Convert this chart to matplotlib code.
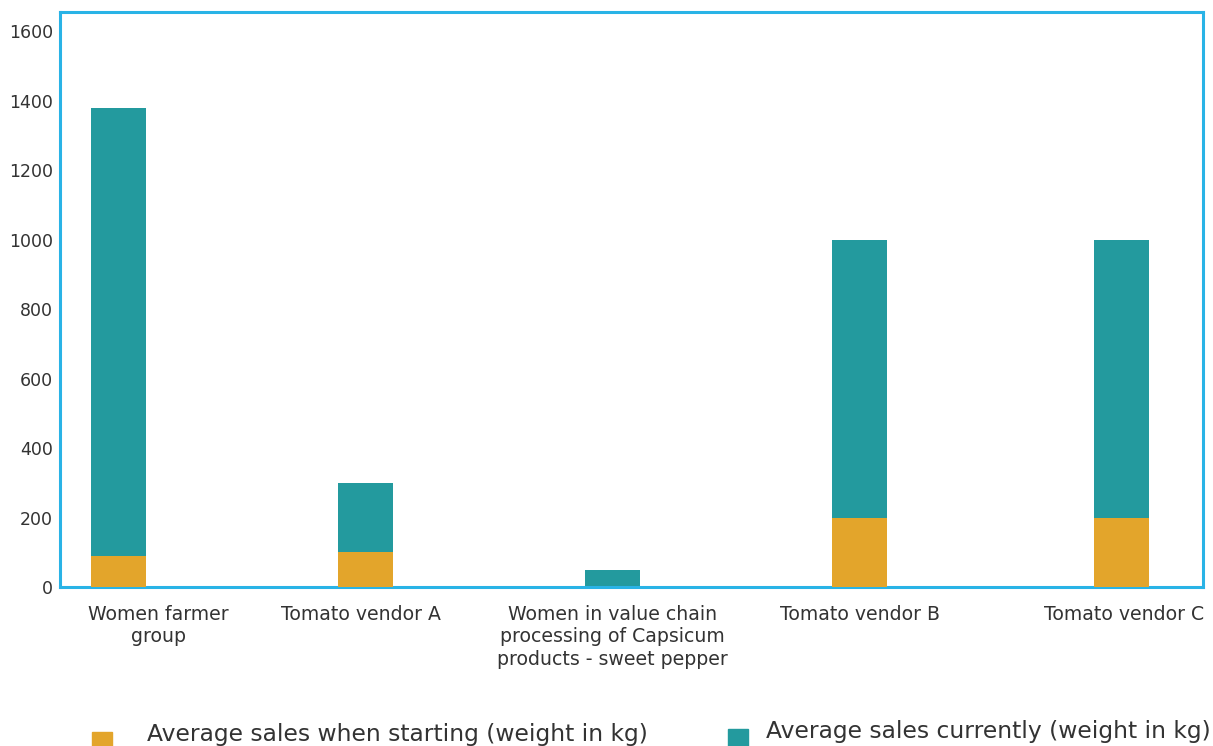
import matplotlib
matplotlib.use("Agg")
import matplotlib.pyplot as plt
from matplotlib.patches import Rectangle

categories = ["Women farmer\ngroup", "Tomato vendor A",
              "Women in value chain\nprocessing of Capsicum\nproducts - sweet pepper",
              "Tomato vendor B", "Tomato vendor C"]
starting = [90, 100, 0, 200, 200]
currently = [1380, 300, 50, 1000, 1000]
yticks = [0, 200, 400, 600, 800, 1000, 1200, 1400, 1600]
legend_labels = ["Average sales when starting (weight in kg)",
                 "Average sales currently (weight in kg)"]

bar_x = [0, 1, 2, 3, 4.06]
label_x = [0.16, 0.98, 2.0, 3.0, 4.07]

orange = "#E3A52B"
teal = "#239A9E"
frame = "#29B3E6"
txt = "#333333"

plt.rcParams['font.family'] = ['DejaVu Sans']
fig = plt.figure(figsize=(12.13, 7.46), dpi=100)
ax = fig.add_axes([60/1213, 1-587/746, (1203-60)/1213, (587-12)/746])

w = 0.223
ax.bar(bar_x, currently, width=w, color=teal, zorder=2)
ax.bar(bar_x, starting, width=w, color=orange, zorder=3)

ax.set_xlim(-0.237, 4.39)
ax.set_ylim(0, 1655)
ax.set_yticks(yticks)
ax.set_yticklabels([str(v) for v in yticks], fontsize=12.5, color=txt)
ax.set_xticks(label_x)
ax.set_xticklabels(categories, fontsize=13.6, color=txt, linespacing=1.22)
ax.tick_params(axis='both', length=0)
ax.tick_params(axis='y', pad=5)
ax.tick_params(axis='x', pad=13)
for s in ax.spines.values():
    s.set_color(frame)
    s.set_linewidth(2.2)

# legend (manual, bottom, partially cut off as in reference)
W, H = 1213, 746
fig.add_artist(Rectangle((92/W, 1-752/H), 20/W, 20/H, transform=fig.transFigure,
                         color=orange, clip_on=False))
fig.add_artist(Rectangle((728/W, 1-749/H), 20/W, 20/H, transform=fig.transFigure,
                         color=teal, clip_on=False))
fig.text(147/W, 1-741/H, legend_labels[0], fontsize=16.8, color=txt, va='baseline')
fig.text(766/W, 1-738/H, legend_labels[1], fontsize=16.8, color=txt, va='baseline')

fig.savefig("out.png", dpi=100, facecolor="white")
